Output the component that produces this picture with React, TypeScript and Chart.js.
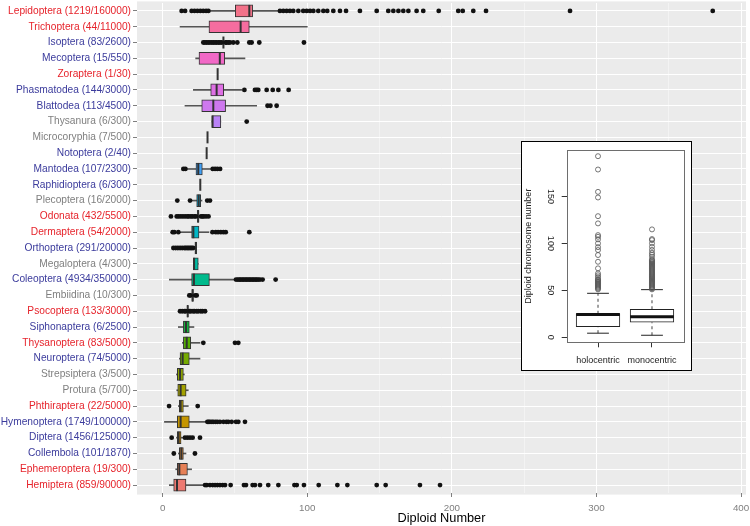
import React, { useEffect, useRef } from 'react';
import { Chart, registerables } from 'chart.js';

Chart.register(...registerables);

// ---------------- data: main panel (top to bottom) ----------------
const categories = [
  'Lepidoptera (1219/160000)', 'Trichoptera (44/11000)', 'Isoptera (83/2600)', 'Mecoptera (15/550)',
  'Zoraptera (1/30)', 'Phasmatodea (144/3000)', 'Blattodea (113/4500)', 'Thysanura (6/300)',
  'Microcoryphia (7/500)', 'Notoptera (2/40)', 'Mantodea (107/2300)', 'Raphidioptera (6/300)',
  'Plecoptera (16/2000)', 'Odonata (432/5500)', 'Dermaptera (54/2000)', 'Orthoptera (291/20000)',
  'Megaloptera (4/300)', 'Coleoptera (4934/350000)', 'Embiidina (10/300)', 'Psocoptera (133/3000)',
  'Siphonaptera (6/2500)', 'Thysanoptera (83/5000)', 'Neuroptera (74/5000)', 'Strepsiptera (3/500)',
  'Protura (5/700)', 'Phthiraptera (22/5000)', 'Hymenoptera (1749/100000)', 'Diptera (1456/125000)',
  'Collembola (101/1870)', 'Ephemeroptera (19/300)', 'Hemiptera (859/90000)',
];

const centromereType = [
  'holo', 'holo', 'mono', 'mono', 'holo', 'mono', 'mono', 'unknown',
  'unknown', 'mono', 'mono', 'mono', 'unknown', 'holo', 'holo', 'mono',
  'unknown', 'mono', 'unknown', 'holo', 'mono', 'holo', 'mono', 'unknown',
  'unknown', 'holo', 'mono', 'mono', 'mono', 'holo', 'holo',
];

const whiskerLow = [33, 12.0, 42, 22.8, 38, 21.2, 15.4, 34, 31, 30.4, 17.1, 26, 20.0, 24, 12.0, 22.3,
  21.2, 4.6, 20.2, 17, 10.8, 13.6, 11.5, 9.5, 9.7, 10.8, 1.2, 9.5, 10.8, 9.0, 4.6];
const quart1 = [50.2, 32.0, 42, 25.1, 38, 33.2, 27.0, 34, 31, 30.4, 23.0, 26, 23.5, 24, 20.0, 22.3,
  21.2, 20.0, 20.2, 17, 14.3, 14.3, 12.0, 10.1, 10.4, 11.5, 10.1, 10.1, 11.5, 10.1, 7.6];
const medians = [59.9, 53.9, 42, 39.5, 38, 37.3, 35.0, 34.5, 31, 30.4, 24.6, 26, 24.9, 24.5, 21.2, 23,
  21.7, 21.6, 20.7, 17.3, 16.1, 16.6, 13.8, 12.0, 12.4, 12.4, 12.4, 11.0, 12.9, 11.5, 9.9];
const quart3 = [62.2, 59.9, 42, 42.9, 38, 42.2, 43.5, 40.2, 31, 30.4, 27.4, 26, 26.3, 25, 25.1, 23.5,
  24.6, 32.3, 21.2, 17.6, 18.4, 19.4, 18.4, 14.3, 16.2, 14.3, 18.4, 12.7, 14.3, 17.1, 16.1];
const whiskerHigh = [80.7, 100, 42, 56.9, 38, 54.6, 65.0, 40.2, 31, 30.4, 33.4, 26, 27.2, 25, 32.0, 23.5,
  24.6, 50.0, 21.2, 17.6, 21.6, 25.8, 25.8, 15.0, 17.7, 17.7, 30.4, 13.8, 16.1, 20.0, 28.6];

const outliers: number[][] = [
  [13.1, 15.5, 20, 22, 24, 26, 28, 30, 31.6, 81.1, 83.4, 85.7, 88, 90.3, 93.8, 97.2, 99.6, 101.9, 104.2,
    107.6, 111.1, 113.8, 118, 122.6, 126.8, 136.4, 148, 156, 159.5, 163, 166.4, 169.9, 175.6, 180.2,
    190.9, 204.4, 207.5, 214.8, 223.6, 281.7, 380.4],
  [],
  [28.1, 29.2, 30.4, 31.5, 32.7, 34, 35, 36.2, 37.3, 38.5, 39.6, 40.8, 43.5, 44.2, 45.4, 46.5, 48.8, 51.6,
    59.9, 61.5, 66.8, 97.7],
  [],
  [],
  [56.5, 63.8, 65, 66.1, 71.9, 76.1, 80, 87.1],
  [72.5, 74.5, 78.8],
  [58.1],
  [],
  [],
  [14.3, 15.7, 34.6, 36.2, 37.8, 39.7],
  [],
  [10.1, 18.9, 30.8, 32.7],
  [5.7, 9.7, 11, 12.5, 14, 15.5, 17, 18, 19.5, 20.5, 22, 23, 26.5, 27.5, 28.5, 30, 31.7],
  [6.9, 8, 10.8, 34.4, 36.7, 38.3, 40.2, 42, 43.6, 59.9],
  [7.4, 9, 10.5, 12, 13.5, 15, 16, 17, 18, 19, 20, 21],
  [],
  [50.7, 52, 53, 54, 55, 56, 57, 58, 59, 60, 61, 62, 63, 64, 65, 66, 67.3, 69.1, 78.1],
  [18.4, 19.2, 22.5, 23.5],
  [12, 13.5, 15, 16, 18.5, 19.5, 21, 22, 23.5, 24.6, 26.3, 27.5, 29.3],
  [],
  [28.1, 50, 52.3],
  [],
  [],
  [],
  [4.4, 24.2],
  [30.9, 31.8, 32.7, 34, 35, 36.5, 37.8, 39.6, 42, 44, 45.4, 47.7, 50.7, 52.3, 56.9],
  [6.2, 15.4, 17.1, 18.9, 20.7, 25.8],
  [7.7, 22.3],
  [],
  [29.3, 30.5, 32.7, 34.6, 36.2, 37.8, 39.6, 41.5, 43.1, 47, 56.2, 57.6, 62.2, 63.8, 67.3, 73, 80, 91.1,
    92.7, 97.7, 107.9, 120.8, 127.7, 148, 154.2, 177.9, 191.8],
];

const xTickLabels = [0, 100, 200, 300, 400];
const xGridValues = [0, 50, 100, 150, 200, 250, 300, 350, 400];

// ---------------- data: inset ----------------
const insetGroups = ['holocentric', 'monocentric'];
const insetWhiskerLow = [4.3, 2.1];
const insetQ1 = [11.3, 16.0];
const insetMedian = [24.2, 21.9];
const insetQ3 = [25.0, 29.8];
const insetWhiskerHigh = [46.8, 50.7];
const insetOutliers: number[][] = [
  [51, 52, 53, 54, 55, 56, 57, 58, 59, 60, 61, 62, 64, 66, 68, 73.4, 80.4, 87.6, 92.9, 96, 100, 104.3,
    107, 108.8, 121.3, 129, 148.9, 154.9, 178.7, 192.9],
  [51, 52, 53, 54, 55, 56, 57, 58, 59, 60, 61, 62, 63, 64, 65, 66, 67, 68, 69, 70, 71, 72, 73, 74, 75,
    76, 77, 78, 79, 80, 81, 82, 83, 85.8, 88, 90, 93, 96.4, 100, 103.5, 104.6, 114.9],
];
const insetYTicks = [0, 50, 100, 150];

// ---------------- styling helpers ----------------
const FONT = "'Liberation Sans', Arial, Helvetica, sans-serif";
const labelColors: Record<string, string> = { holo: '#E6232B', mono: '#3B3B9C', unknown: '#7F7F7F' };

function hclColor(h: number, c: number, l: number): string {
  const hr = (h * Math.PI) / 180;
  const u = c * Math.cos(hr);
  const v = c * Math.sin(hr);
  const Xn = 95.047, Yn = 100, Zn = 108.883;
  const Y = l > 8 ? Yn * Math.pow((l + 16) / 116, 3) : (Yn * l) / 903.3;
  const den = Xn + 15 * Yn + 3 * Zn;
  const un = (4 * Xn) / den, vn = (9 * Yn) / den;
  const up = u / (13 * l) + un;
  const vp = v / (13 * l) + vn;
  const X = (Y * 9 * up) / (4 * vp);
  const Z = (Y * (12 - 3 * up - 20 * vp)) / (4 * vp);
  const x = X / 100, y = Y / 100, z = Z / 100;
  const lin = [
    3.2404542 * x - 1.5371385 * y - 0.4985314 * z,
    -0.969266 * x + 1.8760108 * y + 0.041556 * z,
    0.0556434 * x - 0.2040259 * y + 1.0572252 * z,
  ];
  const rgb = lin.map((val) => {
    const g = val <= 0.0031308 ? 12.92 * val : 1.055 * Math.pow(val, 1 / 2.4) - 0.055;
    return Math.round(Math.min(1, Math.max(0, g)) * 255);
  });
  return `rgb(${rgb[0]},${rgb[1]},${rgb[2]})`;
}

const nCat = categories.length;
const boxColors = categories.map((_, i) => {
  const level = nCat - i; // ggplot: level 1 at the bottom
  return hclColor(15 + ((level - 1) * 360) / nCat, 88, 64);
});

function MainChart() {
  const ref = useRef<HTMLCanvasElement>(null);
  useEffect(() => {
    const panelBg = {
      id: 'panelBg',
      beforeDraw(chart: any) {
        const { ctx, chartArea: a } = chart;
        const step = (a.bottom - a.top) / nCat;
        ctx.save();
        ctx.fillStyle = '#EBEBEB';
        ctx.fillRect(a.left, a.top - 0.1 * step, a.right - a.left, a.bottom - a.top + 0.2 * step);
        ctx.restore();
      },
    };
    const chart = new Chart(ref.current as HTMLCanvasElement, {
      type: 'bar',
      data: {
        labels: categories,
        datasets: [
          {
            type: 'bar',
            label: 'whiskers',
            data: categories.map((_, i) => [whiskerLow[i], whiskerHigh[i]]),
            backgroundColor: '#555555',
            borderWidth: 0,
            barThickness: 1,
            grouped: false,
            order: 3,
          } as any,
          {
            type: 'bar',
            label: 'boxes',
            data: categories.map((_, i) => [quart1[i], quart3[i]]),
            backgroundColor: boxColors,
            borderColor: '#333333',
            borderWidth: 1,
            borderSkipped: false,
            barThickness: 12,
            grouped: false,
            order: 2,
          } as any,
          {
            type: 'scatter',
            label: 'medians',
            data: categories.map((c, i) => ({ x: medians[i], y: c })),
            pointStyle: 'line',
            pointRotation: 90,
            pointRadius: 6,
            pointBorderWidth: 2,
            pointBorderColor: '#333333',
            order: 1,
          } as any,
          {
            type: 'scatter',
            label: 'outliers',
            data: outliers.flatMap((arr, i) => arr.map((v) => ({ x: v, y: categories[i] }))),
            pointStyle: 'circle',
            pointRadius: 2.4,
            pointBackgroundColor: '#111111',
            pointBorderWidth: 0,
            order: 0,
          } as any,
        ],
      },
      options: {
        indexAxis: 'y',
        responsive: false,
        animation: false,
        devicePixelRatio: 1,
        layout: { autoPadding: false, padding: { top: 3, right: 4, left: 0, bottom: 0 } },
        plugins: { legend: { display: false }, tooltip: { enabled: false } },
        scales: {
          x: {
            type: 'linear',
            position: 'bottom',
            min: -17.77,
            max: 403.4,
            afterBuildTicks: (s: any) => {
              s.ticks = xGridValues.map((v) => ({ value: v }));
            },
            afterFit: (s: any) => {
              s.height = 33;
              s.paddingLeft = 0;
              s.paddingRight = 0;
            },
            ticks: {
              callback: (v: any) => (xTickLabels.includes(Number(v)) ? String(v) : ''),
              color: '#7F7F7F',
              font: { family: FONT, size: 9.8 },
              padding: 5,
              maxRotation: 0,
              autoSkip: false,
            },
            grid: {
              color: (ctx: any) => (ctx.tick && xTickLabels.includes(ctx.tick.value) ? '#FFFFFF' : '#F6F6F6'),
              lineWidth: (ctx: any) => (ctx.tick && xTickLabels.includes(ctx.tick.value) ? 1 : 0.7),
              tickColor: (ctx: any) => (ctx.tick && xTickLabels.includes(ctx.tick.value) ? '#7F7F7F' : 'rgba(0,0,0,0)'),
              tickLength: 4,
            },
            border: { display: false },
            title: {
              display: true,
              text: 'Diploid Number',
              color: '#000000',
              font: { family: FONT, size: 12.75 },
              padding: { top: 0, bottom: 0 },
            },
          } as any,
          y: {
            type: 'category',
            offset: true,
            afterFit: (s: any) => {
              s.width = 137;
              s.paddingTop = 0;
              s.paddingBottom = 0;
            },
            ticks: {
              color: (ctx: any) => labelColors[centromereType[ctx.index]],
              font: { family: FONT, size: 10.2 },
              padding: 2,
              autoSkip: false,
            },
            grid: { offset: false, color: '#FFFFFF', lineWidth: 1, tickColor: '#7F7F7F', tickLength: 4 },
            border: { display: false },
          } as any,
        },
      },
      plugins: [panelBg],
    });
    return () => chart.destroy();
  }, []);
  return <canvas ref={ref} width={750} height={526} style={{ display: 'block', width: 750, height: 526 }} />;
}

function InsetChart() {
  const ref = useRef<HTMLCanvasElement>(null);
  useEffect(() => {
    const plotBox = {
      id: 'plotBox',
      afterDraw(chart: any) {
        const { ctx, chartArea: a } = chart;
        ctx.save();
        ctx.strokeStyle = '#6E6E6E';
        ctx.lineWidth = 1;
        ctx.strokeRect(Math.round(a.left) + 0.5, Math.round(a.top) + 0.5, Math.round(a.right - a.left), Math.round(a.bottom - a.top));
        ctx.restore();
      },
    };
    const whiskerSets: any[] = [];
    insetGroups.forEach((_, i) => {
      whiskerSets.push({
        type: 'line',
        data: [{ x: i + 1, y: insetWhiskerLow[i] }, { x: i + 1, y: insetQ1[i] }],
        borderColor: '#444444', borderWidth: 1, borderDash: [3, 3], pointRadius: 0, order: 4,
      });
      whiskerSets.push({
        type: 'line',
        data: [{ x: i + 1, y: insetQ3[i] }, { x: i + 1, y: insetWhiskerHigh[i] }],
        borderColor: '#444444', borderWidth: 1, borderDash: [3, 3], pointRadius: 0, order: 4,
      });
    });
    const chart = new Chart(ref.current as HTMLCanvasElement, {
      type: 'scatter',
      data: {
        datasets: [
          ...whiskerSets,
          {
            type: 'scatter',
            data: insetGroups.flatMap((_, i) => [
              { x: i + 1, y: insetWhiskerLow[i] },
              { x: i + 1, y: insetWhiskerHigh[i] },
            ]),
            pointStyle: 'line', pointRotation: 0, pointRadius: 10.9, pointBorderWidth: 1, pointBorderColor: '#222222',
            order: 3,
          },
          {
            type: 'bar',
            data: insetGroups.map((_, i) => ({ x: i + 1, y: [insetQ1[i], insetQ3[i]] })),
            backgroundColor: '#FFFFFF', borderColor: '#222222', borderWidth: 1, borderSkipped: false,
            barThickness: 43.7, grouped: false, order: 2,
          },
          {
            type: 'scatter',
            data: insetGroups.map((_, i) => ({ x: i + 1, y: insetMedian[i] })),
            pointStyle: 'line', pointRotation: 0, pointRadius: 21.85, pointBorderWidth: 3, pointBorderColor: '#111111',
            order: 1,
          },
          {
            type: 'scatter',
            data: insetOutliers.flatMap((arr, i) => arr.map((v) => ({ x: i + 1, y: v }))),
            pointStyle: 'circle', pointRadius: 2.5, pointBorderWidth: 0.8, pointBorderColor: '#555555',
            pointBackgroundColor: 'rgba(255,255,255,0)', order: 0,
          },
        ] as any,
      },
      options: {
        responsive: false,
        animation: false,
        devicePixelRatio: 1,
        layout: { autoPadding: false, padding: { top: 8, right: 7.7, left: 0, bottom: 0 } },
        plugins: { legend: { display: false }, tooltip: { enabled: false } },
        scales: {
          x: {
            type: 'linear',
            min: 0.42,
            max: 2.58,
            offset: false,
            afterBuildTicks: (s: any) => {
              s.ticks = insetGroups.map((_, i) => ({ value: i + 1 }));
            },
            afterFit: (s: any) => {
              s.height = 27.7;
              s.paddingLeft = 0;
              s.paddingRight = 0;
            },
            ticks: {
              callback: (v: any) => insetGroups[Number(v) - 1] ?? '',
              color: '#222222',
              font: { family: FONT, size: 9 },
              padding: 8,
              maxRotation: 0,
              autoSkip: false,
            },
            grid: { offset: false, drawOnChartArea: false, tickLength: 5, tickColor: '#333333' },
            border: { display: false },
          } as any,
          y: {
            type: 'linear',
            min: -5.4,
            max: 199.5,
            afterBuildTicks: (s: any) => {
              s.ticks = insetYTicks.map((v) => ({ value: v }));
            },
            afterFit: (s: any) => {
              s.width = 44.7;
              s.paddingTop = 0;
              s.paddingBottom = 0;
            },
            ticks: {
              color: '#222222',
              font: { family: FONT, size: 9 },
              padding: 4,
              minRotation: -90,
              maxRotation: -90,
              crossAlign: 'center',
              autoSkip: false,
            },
            grid: { drawOnChartArea: false, tickLength: 5, tickColor: '#333333' },
            border: { display: false },
            title: {
              display: true,
              text: 'Diploid chromosome number',
              color: '#222222',
              font: { family: FONT, size: 9 },
              padding: { top: 1, bottom: 0 },
            },
          } as any,
        },
      },
      plugins: [plotBox],
    });
    return () => chart.destroy();
  }, []);
  return <canvas ref={ref} width={169} height={228} style={{ display: 'block', width: 169, height: 228 }} />;
}

export default function App() {
  return (
    <div style={{ position: 'absolute', left: 0, top: 0, width: 750, height: 526, background: '#FFFFFF' }}>
      <MainChart />
      <div
        style={{
          position: 'absolute',
          left: 521,
          top: 141,
          width: 169,
          height: 228,
          border: '1px solid #000000',
          background: '#FFFFFF',
        }}
      >
        <InsetChart />
      </div>
    </div>
  );
}
